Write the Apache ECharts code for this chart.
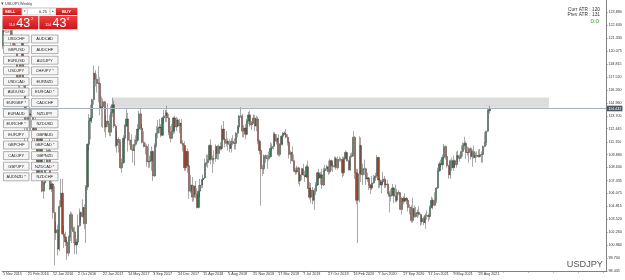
<!DOCTYPE html>
<html><head><meta charset="utf-8">
<script src="https://cdn.jsdelivr.net/npm/echarts@6/dist/echarts.min.js"></script>
<style>html,body{margin:0;padding:0;background:#fff}#c{width:625px;height:280px}</style>
</head><body><div id="c"></div><script>
// Weekly USDJPY candles, week of 1 Nov 2015 .. week of 17 Oct 2021
const opens=[
120.6,123.1,122.6,122.8,122.8,123.2,121.0,121.2,120.3,120.2,
117.2,117.0,118.8,121.1,116.9,113.2,112.6,113.9,113.8,113.8,
111.5,113.1,111.7,108.1,108.8,111.8,106.3,107.1,108.6,110.2,
110.3,106.5,107.0,104.2,102.2,102.5,100.6,104.8,106.1,102.1,
101.8,101.3,100.2,101.8,104.0,102.6,102.3,101.0,101.3,102.9,
104.2,103.8,104.7,103.1,106.7,110.9,113.2,113.5,115.3,117.9,
117.3,116.9,116.9,114.5,114.6,115.1,112.6,113.2,112.9,112.1,
114.0,114.8,112.7,110.8,111.4,111.1,108.6,109.1,111.5,112.7,
113.4,111.3,111.3,110.4,110.3,110.9,111.3,112.4,113.9,112.5,
111.1,110.7,110.7,109.2,109.2,109.3,110.2,107.8,110.8,112.0,
112.5,112.6,111.8,113.5,113.7,114.0,113.5,112.1,111.5,112.2,
113.5,112.6,113.3,112.7,113.0,111.0,110.8,108.6,110.2,108.8,
106.3,106.9,105.7,106.8,106.0,104.7,106.3,106.9,107.4,107.6,
109.0,109.1,109.4,110.8,109.4,109.5,109.5,110.7,110.0,110.7,
110.5,112.4,111.4,111.0,111.2,110.9,110.5,111.2,111.0,111.0,
112.0,112.6,113.7,113.7,112.2,112.5,111.9,113.2,113.8,112.8,
113.0,113.5,112.7,113.4,111.2,110.3,108.5,108.5,109.8,109.5,
109.5,109.7,110.5,110.7,111.9,111.2,111.5,109.9,110.9,111.7,
112.0,111.9,111.6,111.1,109.9,110.1,109.3,108.3,108.2,108.6,
107.3,107.9,108.5,107.9,107.7,108.7,106.6,105.7,106.4,105.4,
106.3,106.9,108.1,107.6,107.9,106.9,108.3,108.5,108.7,108.2,
109.3,108.8,108.7,109.5,108.6,109.4,109.4,109.4,108.1,109.5,
110.1,109.3,108.4,109.7,109.8,111.6,108.1,105.4,108.0,110.8,
107.9,108.5,108.5,107.5,107.6,106.9,106.6,107.1,107.6,107.8,
109.6,107.4,106.9,107.2,107.5,106.9,107.0,106.1,105.8,105.9,
106.6,105.8,105.4,106.2,106.1,104.5,105.6,105.3,105.6,105.4,
104.7,104.7,103.4,104.6,103.8,104.1,104.2,104.0,103.3,103.6,
103.2,103.9,103.9,103.8,104.7,105.4,104.9,105.4,106.6,108.3,
109.0,108.9,109.6,110.7,109.7,108.8,107.9,109.3,108.6,109.3,
108.9,109.8,109.5,109.7,110.2,110.8,111.0,110.1,110.1,110.5,
109.7,110.2,109.6,109.8,109.8,109.7,109.9,109.9,110.7,111.1,
112.2,114.2];
const highs=[
123.2,123.6,123.8,123.3,123.8,123.3,122.4,121.5,120.8,120.4,
118.3,118.9,121.7,121.5,117.5,114.9,114.0,114.6,114.4,114.0,
113.3,113.8,112.1,109.7,111.9,111.9,107.5,109.4,110.6,110.4,
111.45,107.9,107.1,106.8,103.3,103.0,105.4,107.5,107.5,102.9,
102.3,101.5,101.95,104.3,104.2,102.8,102.8,101.6,104.0,104.6,
104.3,105.5,105.0,106.9,111.0,113.9,114.8,115.4,118.66,118.2,
117.8,118.6,117.5,115.6,115.4,115.2,113.7,114.95,113.8,114.7,
115.5,115.2,112.9,112.2,111.6,111.4,109.5,111.8,112.9,114.4,
114.0,112.1,111.9,110.9,111.4,111.8,112.9,114.2,114.5,112.9,
112.2,111.05,110.9,110.95,109.8,110.7,110.3,111.0,112.7,113.3,
113.4,112.9,113.6,114.3,114.3,114.7,113.9,112.7,112.9,113.6,
113.75,113.6,113.5,113.4,113.4,111.3,111.2,110.3,110.5,108.9,
107.9,107.7,106.9,107.3,106.6,106.9,107.5,107.5,107.9,109.5,
109.9,109.9,110.9,111.4,109.8,110.3,110.9,110.8,110.9,111.1,
112.8,113.2,111.5,112.2,111.5,111.4,111.5,111.8,111.5,112.1,
112.8,113.8,114.55,113.9,112.8,112.9,113.4,114.1,114.2,113.2,
113.85,113.8,113.7,113.6,111.4,110.4,108.9,109.9,109.9,109.9,
110.2,111.1,111.0,112.1,112.1,111.9,111.9,111.0,111.8,112.1,
112.2,112.4,111.9,111.2,110.3,110.7,109.9,108.6,108.8,108.7,
108.2,108.6,108.99,108.3,108.9,109.3,107.2,107.1,106.7,106.6,
107.2,108.2,108.5,108.2,108.5,108.6,108.9,108.9,109.3,109.5,
109.4,109.1,109.7,109.7,109.7,109.7,109.6,109.7,109.7,110.3,
110.2,109.4,110.0,110.1,112.2,111.7,108.5,108.5,111.7,111.6,
109.0,109.4,108.6,108.1,107.7,107.0,107.8,107.9,108.1,109.85,
109.7,107.6,107.4,108.2,107.8,107.4,107.4,106.3,106.5,107.0,
106.7,106.95,106.55,106.4,106.2,105.7,105.8,106.1,105.7,105.5,
105.0,104.9,105.65,104.9,104.75,104.5,104.8,104.1,103.9,103.8,
104.1,104.4,104.1,104.9,105.75,105.65,106.2,106.7,108.6,109.2,
109.4,109.9,110.95,110.8,109.8,108.9,109.4,109.6,109.8,109.4,
110.2,110.3,109.9,110.8,111.1,111.65,111.2,110.7,110.6,110.6,
110.4,110.8,110.1,110.2,110.4,110.45,110.2,110.8,112.1,112.2,
114.47,114.7];
const lows=[
120.3,122.2,122.3,122.2,122.3,120.6,120.3,120.3,120.0,116.7,
116.5,115.97,117.6,116.5,110.99,112.3,111.0,112.2,112.2,110.7,
110.7,111.6,107.7,107.6,108.0,106.2,105.55,106.9,108.3,108.7,
106.4,106.2,103.55,99.0,101.5,99.99,100.4,104.7,102.0,100.7,
100.9,99.55,99.9,101.4,101.2,101.2,100.1,100.1,101.1,102.8,
103.3,103.7,102.55,101.2,106.4,110.3,111.4,113.0,114.8,116.6,
116.0,115.05,113.75,112.6,112.5,112.1,111.6,112.6,111.7,111.7,
113.6,112.5,110.6,110.1,110.1,108.5,108.1,109.0,111.0,112.6,
110.2,110.8,110.3,109.1,108.8,110.7,111.1,112.3,112.3,111.0,
110.6,109.9,108.7,108.6,108.6,108.3,107.3,107.7,110.6,111.5,
112.0,111.6,111.7,113.0,113.1,113.1,111.8,111.1,111.4,111.9,
112.0,112.2,112.6,112.0,110.9,110.2,108.3,108.3,108.1,105.55,
106.1,105.25,105.3,105.6,104.6,104.6,105.7,106.6,106.6,107.5,
108.7,108.6,109.3,108.95,108.1,109.0,109.2,109.4,109.4,110.3,
110.3,111.3,110.6,110.7,110.3,110.1,110.1,110.8,110.4,110.4,
111.6,112.3,113.5,111.6,111.6,111.4,111.8,112.9,112.6,112.3,
112.9,112.2,112.2,110.9,109.9,104.87,107.8,108.0,109.1,108.5,
109.3,109.6,110.3,110.4,110.8,110.9,109.7,109.7,110.8,110.8,
111.8,111.5,110.8,109.5,109.0,109.2,108.2,107.9,108.0,107.0,
106.8,107.4,107.8,107.2,107.6,106.5,105.5,105.1,105.0,104.45,
105.9,106.8,107.5,106.95,106.5,106.8,108.2,108.3,107.9,108.0,
108.3,108.2,108.6,108.4,108.4,109.2,109.2,107.65,107.8,109.4,
109.2,108.3,108.3,109.6,109.7,107.5,105.0,101.18,105.2,107.2,
106.9,107.9,106.9,107.2,106.4,106.0,106.4,107.0,107.3,107.6,
106.6,106.6,106.1,107.0,106.6,106.6,106.0,104.2,105.3,105.8,
105.1,105.2,105.2,105.9,104.45,104.0,105.0,105.2,105.0,104.3,
104.0,103.2,103.2,103.7,103.7,103.65,103.8,102.9,103.0,102.95,
102.6,103.5,103.3,103.5,104.6,104.5,104.8,105.1,106.5,108.2,
108.6,108.4,109.5,109.4,108.6,107.5,107.5,108.3,108.3,108.6,
108.6,109.2,109.2,109.5,109.7,110.4,109.5,109.8,109.1,109.4,
108.7,109.5,109.1,109.6,109.6,109.6,109.1,109.1,110.6,110.8,
112.1,113.9];
const closes=[
123.1,122.6,122.8,122.8,123.2,121.0,121.2,120.3,120.2,117.2,
117.0,118.8,121.1,116.9,113.2,112.6,113.9,113.8,113.8,111.5,
113.1,111.7,108.1,108.8,111.8,106.3,107.1,108.6,110.2,110.3,
106.5,107.0,104.2,102.2,102.5,100.6,104.8,106.1,102.1,101.8,
101.3,100.2,101.8,104.0,102.6,102.3,101.0,101.3,102.9,104.2,
103.8,104.7,103.1,106.7,110.9,113.2,113.5,115.3,117.9,117.3,
116.9,116.9,114.5,114.6,115.1,112.6,113.2,112.9,112.1,114.0,
114.8,112.7,110.8,111.4,111.1,108.6,109.1,111.5,112.7,113.4,
111.3,111.3,110.4,110.3,110.9,111.3,112.4,113.9,112.5,111.1,
110.7,110.7,109.2,109.2,109.3,110.2,107.8,110.8,112.0,112.5,
112.6,111.8,113.5,113.7,114.0,113.5,112.1,111.5,112.2,113.5,
112.6,113.3,112.7,113.0,111.0,110.8,108.6,110.2,108.8,106.3,
106.9,105.7,106.8,106.0,104.7,106.3,106.9,107.4,107.6,109.0,
109.1,109.4,110.8,109.4,109.5,109.5,110.7,110.0,110.7,110.5,
112.4,111.4,111.0,111.2,110.9,110.5,111.2,111.0,111.0,112.0,
112.6,113.7,113.7,112.2,112.5,111.9,113.2,113.8,112.8,113.0,
113.5,112.7,113.4,111.2,110.3,108.5,108.5,109.8,109.5,109.5,
109.7,110.5,110.7,111.9,111.2,111.5,109.9,110.9,111.7,112.0,
111.9,111.6,111.1,109.9,110.1,109.3,108.3,108.2,108.6,107.3,
107.9,108.5,107.9,107.7,108.7,106.6,105.7,106.4,105.4,106.3,
106.9,108.1,107.6,107.9,106.9,108.3,108.5,108.7,108.2,109.3,
108.8,108.7,109.5,108.6,109.4,109.4,109.4,108.1,109.5,110.1,
109.3,108.4,109.7,109.8,111.6,108.1,105.4,108.0,110.8,107.9,
108.5,108.5,107.5,107.6,106.9,106.6,107.1,107.6,107.8,109.6,
107.4,106.9,107.2,107.5,106.9,107.0,106.1,105.8,105.9,106.6,
105.8,105.4,106.2,106.1,104.5,105.6,105.3,105.6,105.4,104.7,
104.7,103.4,104.6,103.8,104.1,104.2,104.0,103.3,103.6,103.2,
103.9,103.9,103.8,104.7,105.4,104.9,105.4,106.6,108.3,109.0,
108.9,109.6,110.7,109.7,108.8,107.9,109.3,108.6,109.3,108.9,
109.8,109.5,109.7,110.2,110.8,111.0,110.1,110.1,110.5,109.7,
110.2,109.6,109.8,109.8,109.7,109.9,109.9,110.7,111.1,112.2,
114.2,114.432];
const firstWeek=Date.UTC(2015,10,1);
const totalSlots=386;          // chart width in bar slots (with right shift)
const monthNames=['Jan','Feb','Mar','Apr','May','Jun','Jul','Aug','Sep','Oct','Nov','Dec'];
const priceTicks=[98.445,99.700,100.960,102.260,103.520,104.815,106.075,107.335,108.630,109.890,111.150,112.445,113.705,114.960,116.260,117.520,118.815,120.075,121.330,122.630,123.890];
const bidPrice=114.432;
const zoneLow=114.50, zoneHigh=115.52, zoneFrom=70, zoneTo=349;
const atrCurr=120, atrPrev=131, atrDelta='0.0';
const symbol='USDJPY', timeframe='Weekly';
const sellPrice=['114','43','2'], buyPrice=['114','43','4'], lot='0.25';
const leftButtons=['USDCHF','GBPUSD','EURUSD','USDJPY','USDCAD','AUDUSD','EURGBP *','EURAUD','EURCHF *','EURJPY','GBPCHF','CADJPY','GBPJPY','AUDNZD *'];
const rightButtons=['AUDCAD','AUDCHF','AUDJPY','CHFJPY *','EURNZD','EURCAD *','CADCHF','NZDJPY','NZDUSD','GBPAUD','GBPCAD *','GBPNZD','NZDCAD *','NZDCHF'];

const categories=[];
for(let i=0;i<totalSlots;i++){const d=new Date(firstWeek+i*7*86400000);categories.push(d.getUTCDate()+' '+monthNames[d.getUTCMonth()]+' '+d.getUTCFullYear());}
const candles=closes.map((c,i)=>[opens[i],c,lows[i],highs[i]]);

const FF='"Liberation Sans", Arial, sans-serif';
const g=[];
function txt(x,y,t,fs,fill,align,va,weight){g.push({type:'text',z:100,x:x,y:y,style:{text:t,fontSize:fs,fontFamily:FF,fill:fill,textAlign:align||'left',textVerticalAlign:va||'middle',fontWeight:weight||'normal'}});}
function box(x,y,w,h,fill,stroke,lw){g.push({type:'rect',z:100,shape:{x:x,y:y,width:w,height:h},style:{fill:fill,stroke:stroke,lineWidth:lw||0.6}});}
const red={type:'linear',x:0,y:0,x2:0,y2:1,colorStops:[{offset:0,color:'#f04040'},{offset:1,color:'#c8161c'}]};
// title
g.push({type:'polygon',z:100,shape:{points:[[1.2,2.5],[3.6,2.5],[2.4,5]]},style:{fill:'#444'}});
txt(5,4,symbol+','+timeframe,3.7,'#333');
// one-click panel
box(2.5,7.5,75,22.5,'#fff','#c8c8c8',0.5);
box(2.7,8,19,7,red,null,0);
txt(4.7,11.6,'SELL',4.2,'#fff','left','middle','bold');
box(22.3,8.3,5,6.5,'#fff','#aaa',0.5);
txt(24.8,11.6,'▼',2.6,'#333','center');
box(27.5,8.3,22.5,6.5,'#fff','#bbb',0.5);
txt(43,11.6,lot,4,'#222','center');
box(50.2,8.3,5,6.5,'#fff','#aaa',0.5);
txt(52.7,11.6,'▲',2.6,'#333','center');
box(56,8,21.3,7,red,null,0);
txt(66.5,11.6,'BUY',4.2,'#fff','center','middle','bold');
box(2.7,16,35.6,13.3,red,null,0);
box(39.3,16,38,13.3,red,null,0);
txt(14.8,26.5,sellPrice[0],3.6,'#fff','right','bottom');
txt(23.3,23.3,sellPrice[1],12.5,'#fff','center');
txt(31,19.2,sellPrice[2],4.2,'#fff','left');
txt(51,26.5,buyPrice[0],3.6,'#fff','right','bottom');
txt(59.4,23.3,buyPrice[1],12.5,'#fff','center');
txt(66.7,19.2,buyPrice[2],4.2,'#fff','left');
txt(3,32,'FILE',3.2,'#444');
// symbol buttons
for(let r=0;r<leftButtons.length;r++){
  const y=35+r*10.6;
  box(3.5,y,25.5,8,'#f6f6f6','#8f8f8f',0.7);
  txt(16.25,y+4.2,leftButtons[r],4,'#222','center');
  box(31.5,y,26.5,8,'#f6f6f6','#8f8f8f',0.7);
  txt(44.75,y+4.2,rightButtons[r],4,'#222','center');
}
// ATR info
txt(600,10,'Curr ATR : '+atrCurr,4.8,'#333','right');
txt(600,14.8,'Prev ATR : '+atrPrev,4.8,'#333','right');
txt(599,21,atrDelta,6.2,'#2f9e3a','right');
txt(603,264.5,symbol,9.2,'#555','right');

const chart=echarts.init(document.getElementById('c'),null,{renderer:'canvas'});
chart.setOption({
  animation:false,
  backgroundColor:'#fff',
  grid:{left:0,right:19,top:0,bottom:9,containLabel:false},
  xAxis:{type:'category',data:categories,boundaryGap:true,
    axisLine:{lineStyle:{color:'#808080',width:1}},
    axisTick:{show:true,interval:15,alignWithLabel:true,length:1.5,lineStyle:{color:'#808080'}},
    axisLabel:{interval:15,align:'left',margin:1.2,fontSize:3.7,fontFamily:FF,color:'#333',hideOverlap:false,
      formatter:(v,i)=>i<closes.length?v:''},
    splitLine:{show:false}},
  yAxis:{type:'value',position:'right',min:98.445,max:125.10,
    axisLine:{show:true,lineStyle:{color:'#808080',width:1}},
    axisTick:{show:true,length:1.5,customValues:priceTicks,lineStyle:{color:'#808080'}},
    axisLabel:{customValues:priceTicks,formatter:v=>v.toFixed(3),fontSize:3.7,fontFamily:FF,color:'#333',margin:2.5},
    splitLine:{show:false}},
  series:[{type:'candlestick',data:candles,barWidth:1.7,
    itemStyle:{color:'#2a7d52',color0:'#a8402e',borderColor:'#3c3c3c',borderColor0:'#4a3d3a',borderWidth:0.45},
    emphasis:{disabled:true},
    markArea:{silent:true,itemStyle:{color:'#dddddd'},data:[[{coord:[zoneFrom,zoneHigh]},{coord:[zoneTo,zoneLow]}]]},
    markLine:{silent:true,symbol:['none','none'],animation:false,
      lineStyle:{color:'#a6b2c2',width:1,type:'solid'},
      label:{show:true,position:'end',distance:1,formatter:bidPrice.toFixed(3),fontSize:3.7,fontFamily:FF,color:'#fff',backgroundColor:'#4b5561',padding:[0.8,1.2]},
      data:[{yAxis:bidPrice}]}
  }],
  graphic:{elements:g}
});
</script></body></html>
